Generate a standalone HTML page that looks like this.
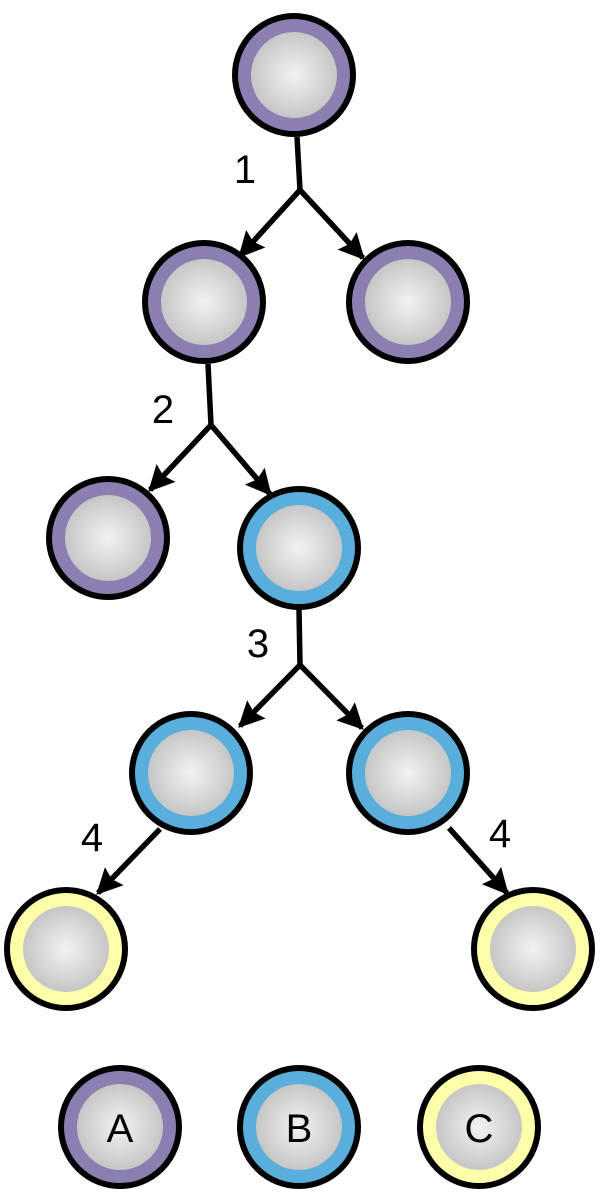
<!DOCTYPE html>
<html><head><meta charset="utf-8"><style>html,body{margin:0;padding:0;background:#fff}svg{display:block}</style></head>
<body>
<svg width="600" height="1200" viewBox="0 0 600 1200" xmlns="http://www.w3.org/2000/svg">
<defs>
<radialGradient id="g" cx="0.5" cy="0.5" r="0.5">
<stop offset="0" stop-color="#f2f2f2"/><stop offset="1" stop-color="#c6c6c6"/></radialGradient>
<marker id="ar" viewBox="0 0 20 20" refX="18" refY="10" markerWidth="26" markerHeight="26" orient="auto" markerUnits="userSpaceOnUse">
<path d="M0,0 L20,10 L0,20 L3,10 z" fill="#000"/></marker>
<g id="np"><circle r="59" fill="#8a7fb0" stroke="#000" stroke-width="6"/><circle r="43" fill="url(#g)"/></g>
<g id="nb"><circle r="59" fill="#5aaedb" stroke="#000" stroke-width="6"/><circle r="43" fill="url(#g)"/></g>
<g id="ny"><circle r="59" fill="#ffffaa" stroke="#000" stroke-width="6"/><circle r="43" fill="url(#g)"/></g>
</defs>
<g stroke="#000" stroke-width="5.5" fill="none">
<path d="M297,137 L300,190"/><path d="M300,190 L240,256" marker-end="url(#ar)"/><path d="M300,190 L363,258" marker-end="url(#ar)"/>
<path d="M208,364 L211,425"/><path d="M211,425 L150,490" marker-end="url(#ar)"/><path d="M211,425 L270,494" marker-end="url(#ar)"/>
<path d="M299,609 L300,665"/><path d="M300,665 L240,726" marker-end="url(#ar)"/><path d="M300,665 L362,728" marker-end="url(#ar)"/>
<path d="M160,829 L98,893" marker-end="url(#ar)"/><path d="M449,828 L507,893" marker-end="url(#ar)"/>
</g>
<use href="#np" x="294" y="75"/>
<use href="#np" x="204" y="302"/><use href="#np" x="408" y="302"/>
<use href="#np" x="108" y="538"/><use href="#nb" x="299" y="548"/>
<use href="#nb" x="191" y="773"/><use href="#nb" x="408" y="773"/>
<use href="#ny" x="66" y="949"/><use href="#ny" x="533" y="949"/>
<use href="#np" x="120" y="1127"/><use href="#nb" x="299" y="1127"/><use href="#ny" x="479" y="1127"/>
<g font-family="Liberation Sans, sans-serif" font-size="40" fill="#000" text-anchor="middle">
<text x="245" y="183">1</text><text x="163" y="423">2</text><text x="258" y="657">3</text>
<text x="92" y="851">4</text><text x="500" y="847">4</text>
<text x="120" y="1142">A</text><text x="299" y="1142">B</text><text x="479" y="1142">C</text>
</g>
</svg>
</body></html>
